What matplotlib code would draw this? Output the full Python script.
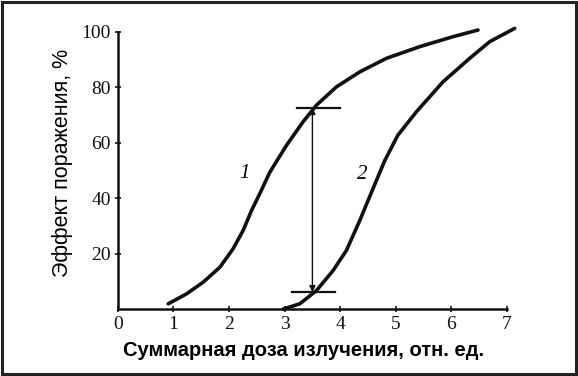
import matplotlib.pyplot as plt
from matplotlib.patches import Rectangle

# curve 1
dose_1 = [0.905, 1.236, 1.534, 1.835, 2.074, 2.254, 2.405, 2.554, 2.734, 3.034,
          3.333, 3.574, 3.933, 4.353, 4.833, 5.432, 6.031, 6.480]
effect_1 = [1.9, 5.5, 9.7, 15.1, 21.8, 28.4, 35.6, 41.7, 49.4, 59.1,
            67.6, 73.6, 80.2, 85.6, 90.5, 94.7, 98.3, 100.7]

# curve 2
dose_2 = [2.973, 3.273, 3.574, 3.872, 4.113, 4.353, 4.560, 4.800, 5.036, 5.372,
          5.845, 6.331, 6.691, 7.140]
effect_2 = [0.0, 1.9, 6.7, 13.9, 21.2, 32.0, 42.0, 53.5, 62.7, 71.2,
            81.9, 90.5, 96.5, 101.3]

# difference marker
arrow_x = 3.5
arrow_top = 72.6
arrow_bottom = 6.1
bar_top = (3.22, 3.99)
bar_bottom = (3.13, 3.90)

x_ticks = [0, 1, 2, 3, 4, 5, 6, 7]
y_ticks = [20, 40, 60, 80, 100]

fig = plt.figure(figsize=(5.78, 3.76), dpi=100)
ax = fig.add_axes([0.204, 0.178, 0.673, 0.737])

for xs, ys in [(dose_1, effect_1), (dose_2, effect_2)]:
    ax.plot(xs, ys, color="#111111", lw=2.6, solid_capstyle="round",
            solid_joinstyle="round", clip_on=False)

ax.annotate("", xy=(arrow_x, arrow_top), xytext=(arrow_x, arrow_bottom),
            arrowprops=dict(arrowstyle="<|-|>", color="#111111", lw=1.0,
                            mutation_scale=9, shrinkA=0, shrinkB=0))
ax.plot(bar_top, [arrow_top, arrow_top], color="#111111", lw=1.6)
ax.plot(bar_bottom, [arrow_bottom, arrow_bottom], color="#111111", lw=1.6)

ax.text(2.28, 49, "1", fontsize=15, family="Liberation Serif", style="italic",
        ha="center", va="center")
ax.text(4.39, 48.4, "2", fontsize=15, family="Liberation Serif", style="italic",
        ha="center", va="center")

ax.set_xlim(0, 7)
ax.set_ylim(0, 100)
ax.set_xticks(x_ticks)
ax.set_yticks(y_ticks)
for s in ["top", "right"]:
    ax.spines[s].set_visible(False)
for s in ["left", "bottom"]:
    ax.spines[s].set_linewidth(1.8)
    ax.spines[s].set_color("#111111")
ax.tick_params(direction="inout", length=4, width=1.2, colors="#111111",
               labelsize=14, pad=3)
for lab in ax.get_xticklabels() + ax.get_yticklabels():
    lab.set_family("Liberation Serif")

ax.set_xlabel("Суммарная доза излучения, отн. ед.", fontsize=14.5, fontweight="bold",
              family="Liberation Sans", labelpad=6)
ax.set_ylabel("Эффект поражения, %", fontsize=15.5, family="Liberation Sans", labelpad=6)
ax.xaxis.label.set_x(0.476)
ax.yaxis.label.set_y(0.527)

fig.patches.append(Rectangle((0.003, 0.004), 0.994, 0.992, transform=fig.transFigure,
                             fill=False, ec="#222222", lw=2.2))

fig.savefig("out.png", dpi=100)
